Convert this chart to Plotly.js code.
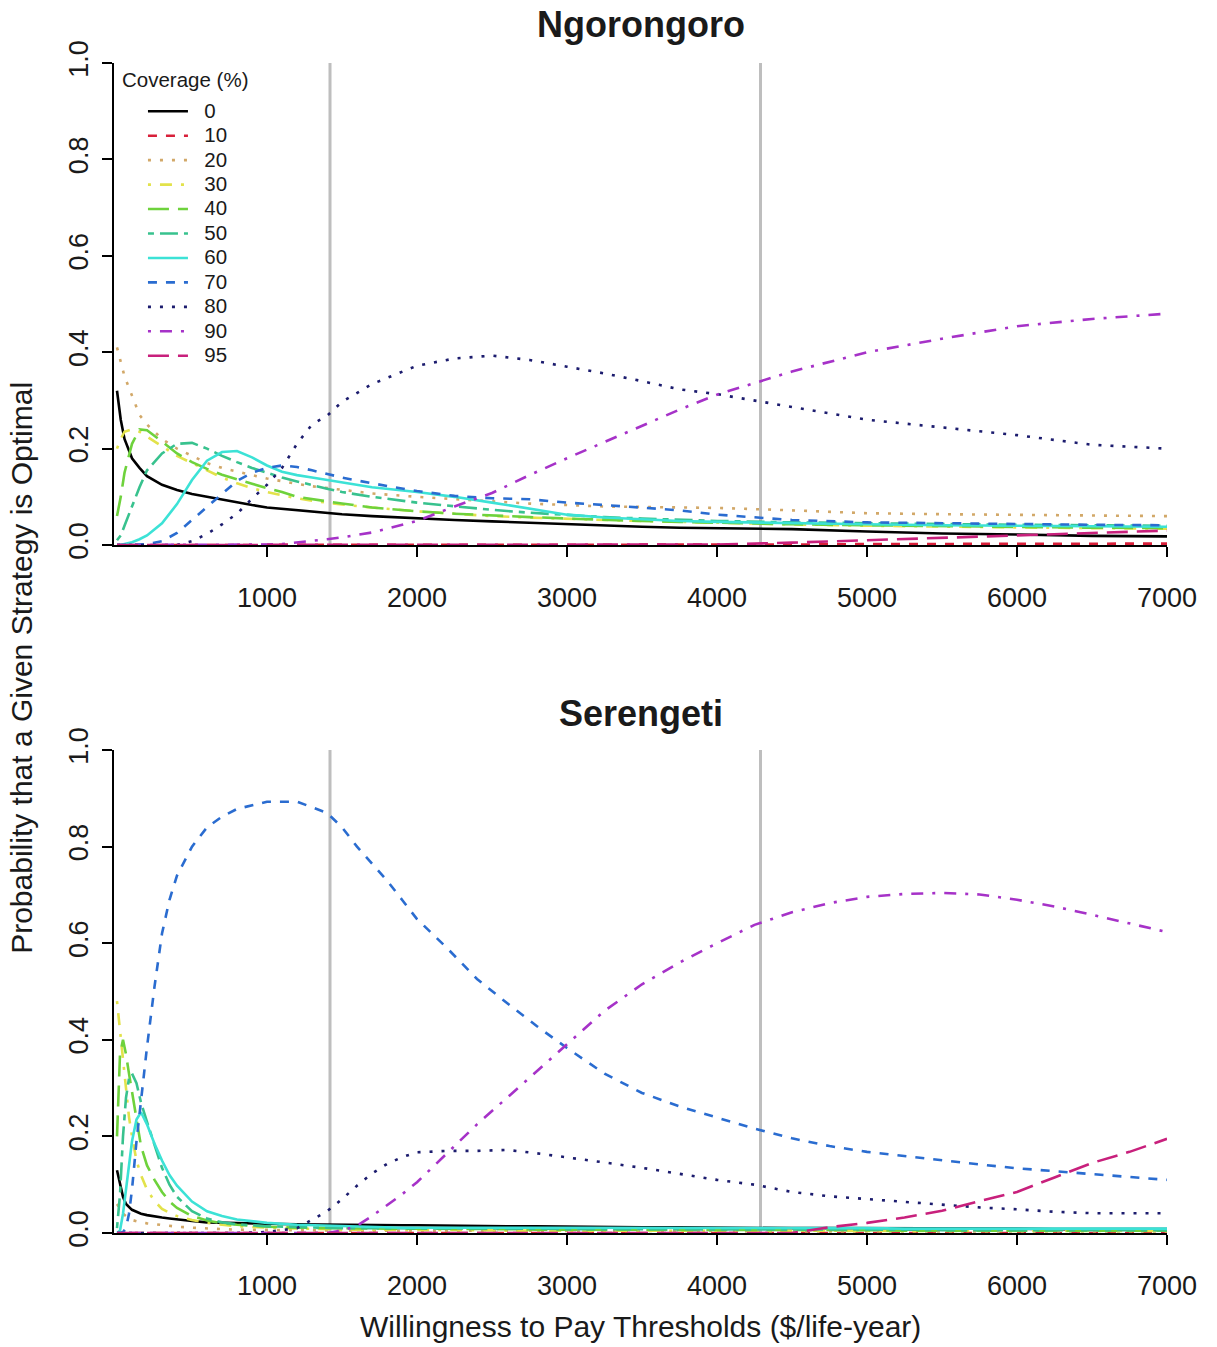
<!DOCTYPE html>
<html>
<head>
<meta charset="utf-8">
<script src="https://cdn.plot.ly/plotly-3.0.1.min.js"></script>
<style>html,body{margin:0;padding:0;background:#fff;}#chart{width:1217px;height:1347px;}</style>
</head>
<body>
<div id="chart"></div>
<script>
// ---------- DATA ----------
const coverage = ["0","10","20","30","40","50","60","70","80","90","95"];
const thresholds = [1420, 4290];
const xTicks = [1000, 2000, 3000, 4000, 5000, 6000, 7000];
const yTicks = [0, 0.2, 0.4, 0.6, 0.8, 1.0];
const yTickText = ["0.0", "0.2", "0.4", "0.6", "0.8", "1.0"];

// Ngorongoro (top panel)
const ngoroWTP = [0,25,50,100,150,200,300,400,500,600,700,800,900,1000,1100,1200,1300,1400,1500,1700,2000,2250,2500,2750,3000,3250,3500,3750,4000,4500,5000,5500,6000,6500,7000];
const ngoro0  = [0.32,0.26,0.22,0.18,0.16,0.143,0.125,0.114,0.106,0.1,0.095,0.089,0.083,0.078,0.075,0.072,0.069,0.066,0.064,0.06,0.055,0.052,0.049,0.046,0.043,0.04,0.038,0.036,0.035,0.033,0.028,0.024,0.022,0.019,0.018];
const ngoro10 = [0,0,0,0,0,0,0,0,0,0,0,0,0,0,0,0,0,0,0,0,0,0,0,0,0,0,0,0,0,0.001,0.002,0.002,0.003,0.003,0.003];
const ngoro20 = [0.41,0.38,0.35,0.31,0.27,0.25,0.22,0.2,0.185,0.17,0.16,0.152,0.145,0.138,0.132,0.127,0.122,0.118,0.114,0.107,0.1,0.095,0.09,0.086,0.083,0.08,0.079,0.078,0.077,0.072,0.066,0.064,0.063,0.061,0.06];
const ngoro30 = [0.2,0.22,0.235,0.24,0.235,0.225,0.205,0.185,0.17,0.155,0.14,0.128,0.118,0.11,0.103,0.097,0.092,0.088,0.084,0.078,0.07,0.065,0.06,0.057,0.054,0.052,0.05,0.048,0.046,0.043,0.04,0.038,0.036,0.035,0.034];
const ngoro40 = [0.06,0.1,0.15,0.21,0.24,0.238,0.215,0.19,0.172,0.158,0.146,0.136,0.127,0.118,0.11,0.1,0.095,0.09,0.086,0.078,0.07,0.065,0.061,0.058,0.055,0.052,0.05,0.048,0.046,0.043,0.041,0.039,0.038,0.036,0.035];
const ngoro50 = [0.01,0.02,0.04,0.08,0.12,0.155,0.19,0.21,0.212,0.2,0.185,0.172,0.16,0.15,0.14,0.132,0.124,0.117,0.11,0.1,0.088,0.08,0.073,0.067,0.062,0.058,0.055,0.052,0.05,0.047,0.045,0.043,0.042,0.041,0.04];
const ngoro60 = [0,0,0.002,0.006,0.012,0.02,0.045,0.085,0.135,0.175,0.193,0.195,0.182,0.165,0.152,0.145,0.14,0.135,0.13,0.12,0.11,0.1,0.088,0.075,0.063,0.057,0.053,0.05,0.048,0.045,0.043,0.041,0.04,0.039,0.038];
const ngoro70 = [0,0,0,0,0.001,0.002,0.008,0.025,0.052,0.08,0.108,0.133,0.15,0.16,0.165,0.162,0.155,0.148,0.14,0.128,0.112,0.102,0.097,0.095,0.088,0.083,0.078,0.072,0.063,0.052,0.047,0.045,0.043,0.042,0.041];
const ngoro80 = [0,0,0,0,0,0,0,0,0.008,0.023,0.043,0.065,0.096,0.125,0.16,0.21,0.25,0.268,0.297,0.334,0.372,0.387,0.393,0.384,0.37,0.356,0.34,0.323,0.313,0.286,0.26,0.244,0.228,0.208,0.2];
const ngoro90 = [0,0,0,0,0,0,0,0,0,0,0,0,0,0.001,0.002,0.005,0.009,0.012,0.016,0.026,0.05,0.08,0.108,0.145,0.18,0.214,0.248,0.281,0.312,0.36,0.4,0.428,0.454,0.469,0.48];
const ngoro95 = [0,0,0,0,0,0,0,0,0,0,0,0,0,0,0,0,0,0,0,0,0,0,0,0,0,0,0,0,0.001,0.005,0.01,0.015,0.02,0.026,0.03];

// Serengeti (bottom panel)
const serenWTP = [0,20,40,60,80,100,130,160,200,250,300,350,400,500,600,700,800,1000,1200,1400,1500,1600,1700,1800,1900,2000,2200,2400,2600,2800,3000,3250,3500,3750,4000,4250,4500,4750,5000,5250,5500,5750,6000,6250,6500,6750,7000];
const seren0  = [0.13,0.1,0.075,0.06,0.053,0.048,0.044,0.04,0.037,0.034,0.032,0.03,0.028,0.025,0.022,0.021,0.02,0.019,0.018,0.017,0.017,0.017,0.016,0.016,0.016,0.016,0.015,0.015,0.014,0.014,0.013,0.013,0.012,0.012,0.011,0.011,0.01,0.01,0.01,0.009,0.009,0.009,0.009,0.008,0.008,0.008,0.008];
const seren10 = [0,0,0,0,0,0,0,0,0,0,0,0,0,0,0,0,0,0,0,0,0,0,0,0,0,0,0,0,0,0,0,0,0,0,0,0,0,0,0,0,0,0,0,0,0,0,0];
const seren20 = [0.06,0.05,0.04,0.035,0.03,0.027,0.024,0.022,0.02,0.018,0.016,0.014,0.013,0.011,0.009,0.008,0.007,0.006,0.005,0.005,0.005,0.005,0.005,0.005,0.005,0.005,0.004,0.004,0.004,0.004,0.004,0.004,0.004,0.004,0.004,0.003,0.003,0.003,0.003,0.003,0.003,0.003,0.003,0.003,0.003,0.003,0.003];
const seren30 = [0.48,0.42,0.35,0.29,0.24,0.2,0.15,0.12,0.09,0.066,0.05,0.042,0.035,0.027,0.021,0.017,0.014,0.011,0.009,0.008,0.007,0.007,0.007,0.006,0.006,0.006,0.006,0.006,0.005,0.005,0.005,0.005,0.005,0.005,0.005,0.005,0.004,0.004,0.004,0.004,0.004,0.004,0.004,0.004,0.004,0.004,0.004];
const seren40 = [0.2,0.37,0.4,0.37,0.33,0.29,0.23,0.18,0.14,0.11,0.085,0.065,0.052,0.035,0.026,0.02,0.017,0.013,0.011,0.01,0.009,0.009,0.009,0.009,0.009,0.009,0.008,0.008,0.008,0.007,0.007,0.007,0.007,0.006,0.006,0.006,0.006,0.006,0.006,0.005,0.005,0.005,0.005,0.005,0.005,0.005,0.005];
const seren50 = [0.01,0.08,0.2,0.28,0.32,0.33,0.31,0.27,0.23,0.18,0.135,0.1,0.075,0.045,0.03,0.022,0.018,0.014,0.012,0.011,0.01,0.01,0.01,0.01,0.01,0.01,0.009,0.009,0.009,0.009,0.008,0.008,0.008,0.008,0.007,0.007,0.007,0.007,0.007,0.007,0.006,0.006,0.006,0.006,0.006,0.006,0.006];
const seren60 = [0,0.005,0.04,0.09,0.14,0.19,0.235,0.25,0.225,0.185,0.15,0.12,0.098,0.065,0.045,0.035,0.028,0.021,0.017,0.015,0.014,0.013,0.012,0.012,0.011,0.011,0.011,0.011,0.01,0.01,0.01,0.01,0.01,0.01,0.01,0.01,0.01,0.01,0.01,0.009,0.009,0.009,0.009,0.009,0.009,0.009,0.009];
const seren70 = [0,0,0.002,0.01,0.04,0.09,0.19,0.28,0.385,0.51,0.62,0.69,0.74,0.8,0.84,0.862,0.878,0.893,0.893,0.87,0.84,0.8,0.765,0.73,0.69,0.65,0.59,0.526,0.476,0.428,0.383,0.33,0.29,0.262,0.239,0.216,0.196,0.18,0.168,0.159,0.15,0.142,0.134,0.128,0.122,0.116,0.11];
const seren80 = [0,0,0,0,0,0,0,0,0,0,0,0,0,0,0,0,0,0.002,0.01,0.045,0.07,0.098,0.123,0.143,0.157,0.167,0.17,0.17,0.172,0.165,0.157,0.146,0.135,0.122,0.11,0.1,0.085,0.076,0.07,0.064,0.058,0.053,0.049,0.044,0.041,0.041,0.041];
const seren90 = [0,0,0,0,0,0,0,0,0,0,0,0,0,0,0,0,0,0,0,0,0.005,0.015,0.035,0.058,0.08,0.105,0.165,0.225,0.28,0.335,0.39,0.46,0.515,0.56,0.6,0.638,0.664,0.683,0.696,0.702,0.704,0.701,0.69,0.676,0.659,0.641,0.623];
const seren95 = [0,0,0,0,0,0,0,0,0,0,0,0,0,0,0,0,0,0,0,0,0,0,0,0,0,0,0,0,0,0,0,0,0,0,0,0,0,0.012,0.021,0.032,0.046,0.066,0.085,0.115,0.145,0.168,0.195];

// ---------- STYLE ----------
const colors = ["#000000","#d8203a","#d2a868","#e2e24a","#6ed23c","#38c28e","#3ce2d6","#2a6cd0","#1c1c6e","#a632c8","#c8207c"];
const dashes = ["solid","9px,9px","3px,9px","3px,9px,12px,9px","21px,9px","6px,6px,18px,6px","solid","9px,9px","3px,9px","3px,9px,12px,9px","21px,9px"];

const ngoroSeries = [ngoro0,ngoro10,ngoro20,ngoro30,ngoro40,ngoro50,ngoro60,ngoro70,ngoro80,ngoro90,ngoro95];
const serenSeries = [seren0,seren10,seren20,seren30,seren40,seren50,seren60,seren70,seren80,seren90,seren95];

const traces = [];
coverage.forEach((c, i) => {
  traces.push({x: ngoroWTP, y: ngoroSeries[i], xaxis: 'x', yaxis: 'y', type: 'scatter', mode: 'lines',
    name: '<span style="font-size:20.5px">\u00a0\u00a0' + c + '</span>', legendgroup: c, showlegend: true,
    line: {color: colors[i], width: 2.6, dash: dashes[i]}});
});
coverage.forEach((c, i) => {
  traces.push({x: serenWTP, y: serenSeries[i], xaxis: 'x2', yaxis: 'y2', type: 'scatter', mode: 'lines',
    name: c, legendgroup: c, showlegend: false,
    line: {color: colors[i], width: 2.6, dash: dashes[i]}});
});

const txt = '#1a1a1a';
const font = 'Liberation Sans, Arial, sans-serif';
function xa(anchor) {
  return {anchor: anchor, domain: [0, 1], range: [-20, 7000], tickvals: xTicks, ticktext: xTicks.map(String),
    showline: true, linecolor: '#000', linewidth: 2, ticks: 'outside', ticklen: 10, tickwidth: 2, tickcolor: '#000',
    tickfont: {size: 27, color: txt, family: font}, showgrid: false, zeroline: false, ticklabelstandoff: 18};
}
function ya(anchor, domain) {
  return {anchor: anchor, domain: domain, range: [0, 1], tickvals: yTicks, ticktext: yTickText, tickangle: -90,
    showline: true, linecolor: '#000', linewidth: 2, ticks: 'outside', ticklen: 10, tickwidth: 2, tickcolor: '#000',
    tickfont: {size: 27, color: txt, family: font}, showgrid: false, zeroline: false, ticklabelstandoff: 3};
}

const shapes = [];
thresholds.forEach(t => {
  ['y', 'y2'].forEach((yr, k) => {
    shapes.push({type: 'line', xref: k === 0 ? 'x' : 'x2', yref: yr + ' domain', x0: t, x1: t, y0: 0, y1: 1,
      line: {color: '#bebebe', width: 3}, layer: 'below'});
  });
});

const layout = {
  width: 1217, height: 1347,
  margin: {l: 114, r: 50, t: 63, b: 114},
  paper_bgcolor: '#fff', plot_bgcolor: '#fff',
  font: {family: font, color: txt},
  xaxis: xa('y'),
  yaxis: ya('x', [0.588, 1]),
  xaxis2: xa('y2'),
  yaxis2: ya('x2', [0, 0.4128]),
  shapes: shapes,
  showlegend: true,
  legend: {x: 0.0275, y: 0.9735, xanchor: 'left', yanchor: 'top', font: {size: 16.5, color: txt, family: font},
    bgcolor: 'rgba(0,0,0,0)', borderwidth: 0, itemwidth: 40, tracegroupgap: 0, traceorder: 'normal'},
  annotations: [
    {text: '<b>Ngorongoro</b>', xref: 'paper', yref: 'paper', x: 0.5, y: 1.0325, xanchor: 'center', yanchor: 'middle', showarrow: false, font: {size: 36, color: txt, family: font}},
    {text: '<b>Serengeti</b>', xref: 'paper', yref: 'paper', x: 0.5, y: 0.4444, xanchor: 'center', yanchor: 'middle', showarrow: false, font: {size: 36, color: txt, family: font}},
    {text: 'Probability that a Given Strategy is Optimal', xref: 'paper', yref: 'paper', x: -0.0874, y: 0.483, xanchor: 'center', yanchor: 'middle', textangle: -90, showarrow: false, font: {size: 30, color: txt, family: font}},
    {text: 'Willingness to Pay Thresholds ($/life-year)', xref: 'paper', yref: 'paper', x: 0.5, y: -0.0803, xanchor: 'center', yanchor: 'middle', showarrow: false, font: {size: 30, color: txt, family: font}},
    {text: 'Coverage (%)', xref: 'paper', yref: 'paper', x: 0.0057, y: 0.9855, xanchor: 'left', yanchor: 'middle', showarrow: false, font: {size: 20.5, color: txt, family: font}}
  ]
};

Plotly.newPlot('chart', traces, layout, {displayModeBar: false, staticPlot: true});
</script>
</body>
</html>
